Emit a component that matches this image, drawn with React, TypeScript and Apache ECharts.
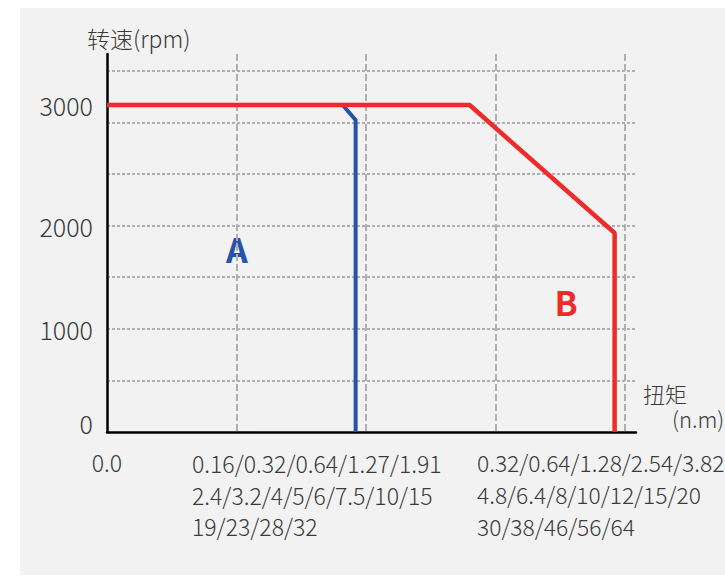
import React, { useEffect, useRef } from "react";
import * as echarts from "echarts";

// Torque axis in grid units (one unit per vertical grid line); speed in rpm
const curveA: [number, number][] = [[0, 3000], [1.82, 3000], [1.92, 2862], [1.92, 0]];
const curveB: [number, number][] = [[0, 3000], [2.8, 3000], [3.92, 1826], [3.92, 0]];
const speedLabels: Record<number, string> = { 0: "0", 1000: "1000", 2000: "2000" };
const ratedSpeedLabel = "3000";
const xOriginLabel = "0.0";
const torqueLabelsA = ["0.16/0.32/0.64/1.27/1.91", "2.4/3.2/4/5/6/7.5/10/15", "19/23/28/32"];
const torqueLabelsB = ["0.32/0.64/1.28/2.54/3.82", "4.8/6.4/8/10/12/15/20", "30/38/46/56/64"];
const yName = "转速(rpm)";
const xName1 = "扭矩";
const xName2 = "(n.m)";
const regionA = "A";
const regionB = "B";

const FONT = '"Noto Sans CJK SC", "Noto Sans", sans-serif';
const RED = "#ee2a2a";
const BLUE = "#2653a6";
const GRID = "#b0b0b4";
const TXT = "#3a3a3a";

export default function App() {
  const ref = useRef<HTMLDivElement>(null);
  useEffect(() => {
    if (!ref.current) return;
    const chart = echarts.init(ref.current, undefined, { renderer: "svg" });
    chart.setOption({
      animation: false,
      backgroundColor: "transparent",
      grid: { left: 107, right: 89, top: 54, bottom: 144 },
      xAxis: {
        type: "value",
        min: 0,
        max: 4.085,
        interval: 1,
        axisLine: { show: true, lineStyle: { color: "#000", width: 2.5 } },
        axisTick: { show: false },
        axisLabel: {
          showMaxLabel: false,
          margin: 18,
          fontSize: 23,
          fontFamily: FONT,
          fontWeight: 300,
          color: TXT,
          formatter: (v: number) => (v === 0 ? xOriginLabel : ""),
        },
        splitLine: {
          show: true,
          showMinLine: false,
          showMaxLine: false,
          lineStyle: { color: GRID, width: 2, type: [7, 3] },
        },
      },
      yAxis: [
        {
          type: "value",
          min: 0,
          max: 3468,
          interval: 3000,
          axisLine: { show: true, lineStyle: { color: "#000", width: 2.5 } },
          axisTick: { show: false },
          splitLine: { show: false },
          axisLabel: {
            showMaxLabel: false,
            margin: 14,
            fontSize: 25,
            fontFamily: FONT,
            fontWeight: 300,
            color: TXT,
            formatter: (v: number) => (v === 3000 ? ratedSpeedLabel : ""),
          },
        },
        {
          type: "value",
          position: "left",
          min: 0,
          max: 3663,
          interval: 500,
          axisLine: { show: false },
          axisTick: { show: false },
          splitLine: {
            show: true,
            showMinLine: false,
            showMaxLine: false,
            lineStyle: { color: GRID, width: 2, type: [3, 2] },
          },
          axisLabel: {
            showMaxLabel: false,
            margin: 14,
            fontSize: 25,
            fontFamily: FONT,
            fontWeight: 300,
            color: TXT,
            formatter: (v: number) =>
              v === 0 ? "{z|" + speedLabels[0] + "}" : speedLabels[v] ?? "",
            rich: {
              z: {
                fontSize: 25,
                fontFamily: FONT,
                fontWeight: 300,
                color: TXT,
                padding: [0, 0, 18, 0],
              },
            },
          },
        },
      ],
      series: [
        {
          type: "line",
          yAxisIndex: 0,
          data: curveA,
          symbol: "none",
          lineStyle: { color: BLUE, width: 4 },
          z: 3,
        },
        {
          type: "line",
          yAxisIndex: 0,
          data: curveB,
          symbol: "none",
          lineStyle: { color: RED, width: 4.5 },
          z: 4,
        },
      ],
      graphic: [
        {
          type: "text",
          x: 87,
          y: 38,
          style: { text: yName, font: `300 23px ${FONT}`, fill: TXT, verticalAlign: "middle" },
        },
        {
          type: "text",
          x: 643,
          y: 393,
          style: { text: xName1, font: `300 22px ${FONT}`, fill: TXT, verticalAlign: "middle" },
        },
        {
          type: "text",
          x: 672,
          y: 418,
          style: { text: xName2, font: `300 22px ${FONT}`, fill: TXT, verticalAlign: "middle" },
        },
        {
          type: "text",
          x: 192,
          y: 447,
          style: {
            text: torqueLabelsA.join("\n"),
            font: `300 23px ${FONT}`,
            lineHeight: 31.7,
            fill: TXT,
            verticalAlign: "top",
          },
        },
        {
          type: "text",
          x: 477,
          y: 447,
          style: {
            text: torqueLabelsB.join("\n"),
            font: `300 22.8px ${FONT}`,
            lineHeight: 31.7,
            fill: TXT,
            verticalAlign: "top",
          },
        },
        {
          type: "text",
          x: 237,
          y: 248,
          style: {
            text: regionA,
            font: `bold 34px ${FONT}`,
            fill: BLUE,
            align: "center",
            verticalAlign: "middle",
          },
        },
        {
          type: "text",
          x: 566,
          y: 301,
          style: {
            text: regionB,
            font: `bold 34px ${FONT}`,
            fill: RED,
            align: "center",
            verticalAlign: "middle",
          },
        },
      ],
    });
    return () => chart.dispose();
  }, []);

  return (
    <div style={{ position: "absolute", left: 0, top: 0, width: 725, height: 576, background: "#fff", overflow: "hidden" }}>
      <div style={{ position: "absolute", left: 20, top: 8, width: 705, height: 567, background: "#f2f2f2" }} />
      <div ref={ref} style={{ position: "absolute", left: 0, top: 0, width: 725, height: 576 }} />
    </div>
  );
}
